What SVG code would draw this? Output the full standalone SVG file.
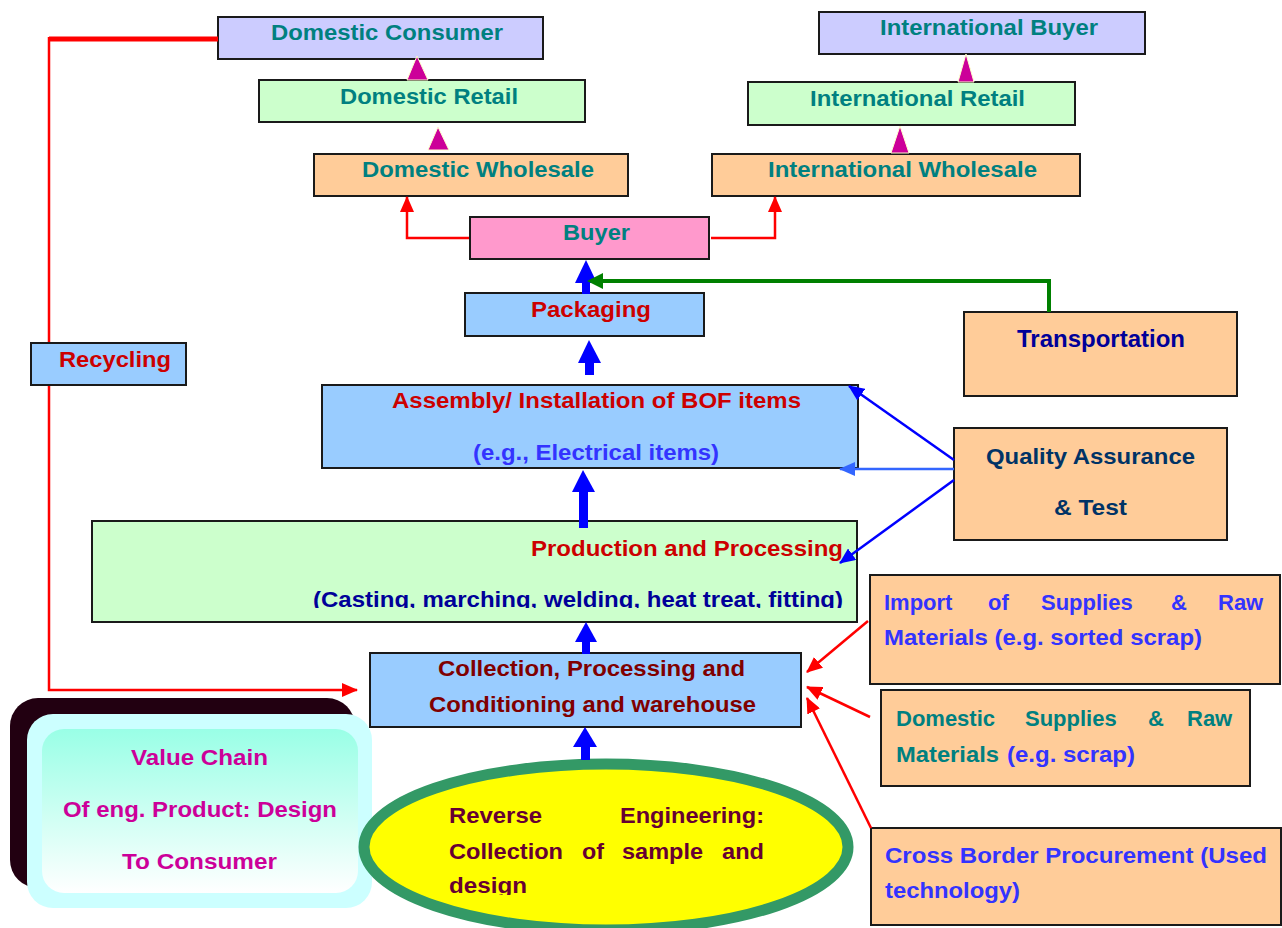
<svg xmlns="http://www.w3.org/2000/svg" width="1282" height="928" viewBox="0 0 1282 928">
<defs>
<style>
text{font-family:"Liberation Sans",Arial,sans-serif;font-weight:bold;font-size:22px}
.box{stroke:#1a1a1a;stroke-width:2}
.lav{fill:#CCCCFF}.mint{fill:#CCFFCC}.peach{fill:#FFCC99}.pink{fill:#FF99CC}.sky{fill:#99CCFF}
.teal{fill:#008080}.red{fill:#CC0000}.blue{fill:#3333FF}.navy{fill:#000099}.slate{fill:#003366}.maroon{fill:#800000}.plum{fill:#660033}.mag{fill:#CC0099}
.tri{fill:#CC0099;stroke:#FFFFCC;stroke-width:1}
.blk{fill:#0000FF}
.rl{fill:none;stroke:#FF0000;stroke-width:2.5}
.bl{fill:none;stroke:#0000FF;stroke-width:2.5}
</style>
<marker id="ar" markerUnits="userSpaceOnUse" markerWidth="16" markerHeight="14" refX="15" refY="7" orient="auto"><path d="M0,0 L16,7 L0,14 z" fill="#FF0000"/></marker>
<marker id="ab" markerUnits="userSpaceOnUse" markerWidth="16" markerHeight="14" refX="15" refY="7" orient="auto"><path d="M0,0 L16,7 L0,14 z" fill="#0000FF"/></marker>
<marker id="alb" markerUnits="userSpaceOnUse" markerWidth="16" markerHeight="14" refX="15" refY="7" orient="auto"><path d="M0,0 L16,7 L0,14 z" fill="#3366FF"/></marker>
<linearGradient id="vg" x1="0" y1="0" x2="0" y2="1"><stop offset="0" stop-color="#99FFE6"/><stop offset="1" stop-color="#FFFFFF"/></linearGradient>
<clipPath id="clipProd"><rect x="92" y="521" width="766" height="87"/></clipPath>
<clipPath id="clipEll"><rect x="359" y="758" width="495" height="137"/></clipPath>
</defs>
<rect width="1282" height="928" fill="#FFFFFF"/>

<g id="domestic-consumer"><rect class="box lav" x="218" y="17" width="325" height="42"/><text class="teal" x="271" y="40" textLength="232" lengthAdjust="spacingAndGlyphs">Domestic Consumer</text></g>
<g id="domestic-retail"><rect class="box mint" x="259" y="80" width="326" height="42"/><text class="teal" x="340" y="104" textLength="178" lengthAdjust="spacingAndGlyphs">Domestic Retail</text></g>
<g id="domestic-wholesale"><rect class="box peach" x="314" y="154" width="314" height="42"/><text class="teal" x="362" y="177" textLength="232" lengthAdjust="spacingAndGlyphs">Domestic Wholesale</text></g>
<g id="international-buyer"><rect class="box lav" x="819" y="12" width="326" height="42"/><text class="teal" x="880" y="35" textLength="218" lengthAdjust="spacingAndGlyphs">International Buyer</text></g>
<g id="international-retail"><rect class="box mint" x="748" y="82" width="327" height="43"/><text class="teal" x="810" y="106" textLength="215" lengthAdjust="spacingAndGlyphs">International Retail</text></g>
<g id="international-wholesale"><rect class="box peach" x="712" y="154" width="368" height="42"/><text class="teal" x="768" y="177" textLength="269" lengthAdjust="spacingAndGlyphs">International Wholesale</text></g>
<g id="buyer"><rect class="box pink" x="470" y="217" width="239" height="42"/><text class="teal" x="563" y="240" textLength="67" lengthAdjust="spacingAndGlyphs">Buyer</text></g>
<g id="packaging"><rect class="box sky" x="465" y="293" width="239" height="43"/><text class="red" x="531" y="317" textLength="120" lengthAdjust="spacingAndGlyphs">Packaging</text></g>
<g id="transportation"><rect class="box peach" x="964" y="312" width="273" height="84"/><text class="navy" style="font-size:24px" x="1017" y="347" textLength="168" lengthAdjust="spacingAndGlyphs">Transportation</text></g>
<g id="assembly"><rect class="box sky" x="322" y="385" width="536" height="83"/>
<text class="red" x="392" y="408" textLength="409" lengthAdjust="spacingAndGlyphs">Assembly/ Installation of BOF items</text>
<text class="blue" x="473" y="460" textLength="246" lengthAdjust="spacingAndGlyphs">(e.g., Electrical items)</text></g>
<g id="quality-assurance"><rect class="box peach" x="954" y="428" width="273" height="112"/>
<text class="slate" x="986" y="464" textLength="209" lengthAdjust="spacingAndGlyphs">Quality Assurance</text>
<text class="slate" x="1054" y="515" textLength="73" lengthAdjust="spacingAndGlyphs">&amp; Test</text></g>
<g id="production"><rect class="box mint" x="92" y="521" width="765" height="101"/>
<text class="red" x="531" y="556" textLength="312" lengthAdjust="spacingAndGlyphs">Production and Processing</text>
<text clip-path="url(#clipProd)" fill="#000099" x="313" y="607" textLength="530" lengthAdjust="spacingAndGlyphs">(Casting, marching, welding, heat treat, fitting)</text></g>
<g id="import-supplies"><rect class="box peach" x="870" y="575" width="410" height="109"/>
<text class="blue" y="610"><tspan x="884">Import</tspan><tspan x="988">of</tspan><tspan x="1041">Supplies</tspan><tspan x="1171">&amp;</tspan><tspan x="1218">Raw</tspan></text>
<text class="blue" x="884" y="645" textLength="318" lengthAdjust="spacingAndGlyphs">Materials (e.g. sorted scrap)</text></g>
<g id="domestic-supplies"><rect class="box peach" x="881" y="690" width="369" height="96"/>
<text class="teal" y="726"><tspan x="896">Domestic</tspan><tspan x="1025">Supplies</tspan><tspan x="1148">&amp;</tspan><tspan x="1187">Raw</tspan></text>
<text class="teal" x="896" y="762" textLength="103" lengthAdjust="spacingAndGlyphs">Materials</text>
<text class="blue" x="1007" y="762" textLength="128" lengthAdjust="spacingAndGlyphs">(e.g. scrap)</text></g>
<g id="cross-border"><rect class="box peach" x="871" y="828" width="410" height="97"/>
<text class="blue" x="885" y="863" textLength="382" lengthAdjust="spacingAndGlyphs">Cross Border Procurement (Used</text>
<text class="blue" x="885" y="898" textLength="135" lengthAdjust="spacingAndGlyphs">technology)</text></g>
<g id="collection"><rect class="box sky" x="370" y="653" width="431" height="74"/>
<text class="maroon" x="438" y="676" textLength="307" lengthAdjust="spacingAndGlyphs">Collection, Processing and</text>
<text class="maroon" x="429" y="712" textLength="327" lengthAdjust="spacingAndGlyphs">Conditioning and warehouse</text></g>
<g id="value-chain">
<rect x="10" y="698" width="345" height="190" rx="28" fill="#220011"/>
<rect x="27" y="714" width="345" height="194" rx="26" fill="#CCFFFF"/>
<rect x="42" y="729" width="316" height="164" rx="22" fill="url(#vg)"/>
<text class="mag" x="131" y="765" textLength="137" lengthAdjust="spacingAndGlyphs">Value Chain</text>
<text class="mag" x="63" y="817" textLength="274" lengthAdjust="spacingAndGlyphs">Of eng. Product: Design</text>
<text class="mag" x="122" y="869" textLength="155" lengthAdjust="spacingAndGlyphs">To Consumer</text>
</g>
<g id="reverse-engineering"><ellipse cx="606" cy="847" rx="242" ry="83" fill="#FFFF00" stroke="#339966" stroke-width="11"/>
<g class="plum" clip-path="url(#clipEll)">
<text class="plum" x="449" y="823" textLength="93" lengthAdjust="spacingAndGlyphs">Reverse</text>
<text class="plum" x="620" y="823" textLength="144" lengthAdjust="spacingAndGlyphs">Engineering:</text>
<text class="plum" x="449" y="859" textLength="114" lengthAdjust="spacingAndGlyphs">Collection</text>
<text class="plum" x="582" y="859" textLength="22" lengthAdjust="spacingAndGlyphs">of</text>
<text class="plum" x="622" y="859" textLength="81" lengthAdjust="spacingAndGlyphs">sample</text>
<text class="plum" x="722" y="859" textLength="42" lengthAdjust="spacingAndGlyphs">and</text>
<text class="plum" x="449" y="893" textLength="78" lengthAdjust="spacingAndGlyphs">design</text>
</g></g>

<g id="connectors">
<path d="M218,39 H49" fill="none" stroke="#FF0000" stroke-width="5"/>
<path d="M49,37 V690 H357" class="rl" stroke-width="3" marker-end="url(#ar)"/>
<path d="M469,238 H407 V197" class="rl" stroke-width="2" marker-end="url(#ar)"/>
<path d="M711,238 H775 V197" class="rl" stroke-width="2" marker-end="url(#ar)"/>
<polygon class="tri" points="417,56 407,80 428,80"/>
<polygon class="tri" points="438,127 428,150 449,150"/>
<polygon class="tri" points="966,54 958,82 974,82"/>
<polygon class="tri" points="900,126 891,153 909,153"/>
<rect class="blk" x="582" y="282" width="8" height="12"/>
<polygon class="blk" points="586,260 575,283 597,283"/>
<path d="M1049,312 V281 H600" fill="none" stroke="#008000" stroke-width="4"/>
<polygon fill="#008000" points="587,281 603,273 603,289"/>
<rect class="blk" x="585" y="362" width="9" height="13"/>
<polygon class="blk" points="589,340 578,363 601,363"/>
<rect class="blk" x="579" y="491" width="9" height="37"/>
<polygon class="blk" points="583,470 572,492 595,492"/>
<rect class="blk" x="582" y="641" width="8" height="13"/>
<polygon class="blk" points="586,622 575,642 597,642"/>
<rect class="blk" x="581" y="746" width="9" height="14"/>
<polygon class="blk" points="585,727 573,747 597,747"/>
<line class="bl" x1="954" y1="460" x2="849" y2="386" marker-end="url(#ab)"/>
<line x1="954" y1="469" x2="840" y2="469" fill="none" stroke="#3366FF" stroke-width="2.5" marker-end="url(#alb)"/>
<line class="bl" x1="954" y1="480" x2="840" y2="563" marker-end="url(#ab)"/>
<line class="rl" x1="868" y1="621" x2="807" y2="672" marker-end="url(#ar)"/>
<line class="rl" x1="870" y1="717" x2="807" y2="687" marker-end="url(#ar)"/>
<line class="rl" x1="871" y1="828" x2="807" y2="698" marker-end="url(#ar)"/>
</g>

<g id="recycling"><rect class="box sky" x="31" y="343" width="155" height="42"/><text class="red" x="59" y="367" textLength="112" lengthAdjust="spacingAndGlyphs">Recycling</text></g>
</svg>
